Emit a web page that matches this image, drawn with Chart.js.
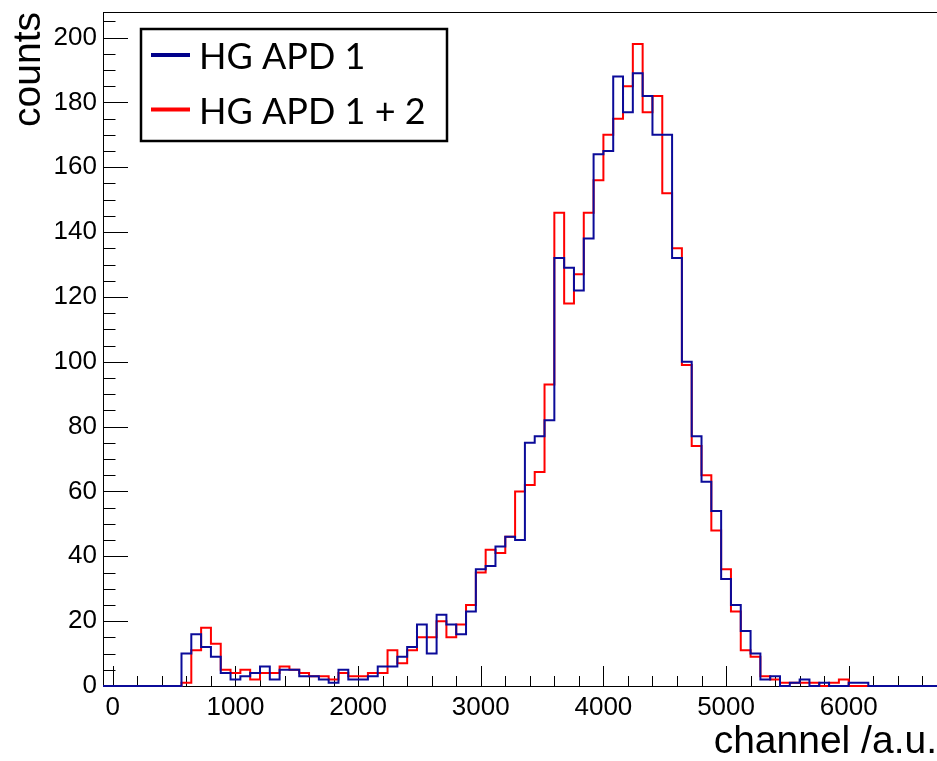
<!DOCTYPE html>
<html>
<head>
<meta charset="utf-8">
<script src="https://cdn.jsdelivr.net/npm/chart.js@4.4.1/dist/chart.umd.min.js"></script>
<style>
  html, body { margin: 0; padding: 0; background: #fff; }
  canvas { display: block; }
</style>
</head>
<body>
<canvas id="spectrum" width="937" height="761"></canvas>
<script>
// histogram binning (channel units)
var binWidth = 80;
var firstEdge = 560;      // lower edge of first non-empty bin
var rangeMin = -80;
var rangeMax = 6720;

// counts per bin, starting at firstEdge
var blueCounts = [10, 16, 12, 9, 4, 2, 3, 4, 6, 2,
    5, 5, 3, 3, 2, 1, 5, 2, 2, 3,
    6, 6, 9, 12, 19, 10, 22, 19, 16, 23,
    36, 37, 43, 46, 45, 75, 77, 82, 132, 129,
    122, 138, 164, 165, 188, 177, 189, 182, 170, 170,
    132, 100, 77, 63, 54, 33, 25, 17, 10, 2,
    3, 0, 1, 2, 0, 1, 0, 0, 1, 1];
var redCounts = [1, 11, 18, 13, 5, 4, 5, 2, 4, 4,
    6, 5, 4, 3, 3, 2, 4, 3, 3, 4,
    4, 11, 7, 11, 15, 15, 20, 15, 19, 25,
    35, 42, 41, 46, 60, 62, 66, 93, 146, 118,
    127, 146, 156, 170, 175, 185, 198, 177, 182, 152,
    135, 99, 74, 65, 48, 36, 23, 11, 9, 3,
    2, 1, 1, 1, 1, 0, 1, 2, 0, 0];

var xTicks = [0, 1000, 2000, 3000, 4000, 5000, 6000];
var yTicks = [0, 20, 40, 60, 80, 100, 120, 140, 160, 180, 200];
var yMax = 207.9;

var labels = ['HG APD 1', 'HG APD 1 + 2'];
var colors = ['#0b0b99', '#ff0000'];

function toSteps(counts) {
    var pts = [{x: rangeMin, y: 0}];
    counts.forEach(function(c, i) {
        pts.push({x: firstEdge + i * binWidth, y: c});
    });
    pts.push({x: firstEdge + counts.length * binWidth, y: 0});
    pts.push({x: rangeMax, y: 0});
    return pts;
}

// ROOT style frame with ticks pointing inwards
const frameTicks = {
    id: 'frameTicks',
    beforeDatasetsDraw(chart) {
        const {ctx, chartArea: a, scales: {x, y}} = chart;
        ctx.save();
        ctx.strokeStyle = '#000';
        ctx.lineWidth = 1;
        ctx.strokeRect(a.left + 0.5, a.top + 0.5, a.right - a.left, a.bottom - a.top);
        ctx.beginPath();
        for (let v = 0; v <= rangeMax; v += 200) {
            const px = Math.round(x.getPixelForValue(v)) + 0.5;
            const len = v % 1000 === 0 ? 20 : 10;
            ctx.moveTo(px, a.bottom);
            ctx.lineTo(px, a.bottom - len);
        }
        for (let v = 0; v <= yMax; v += 5) {
            const py = Math.round(y.getPixelForValue(v)) + 0.5;
            const len = v % 20 === 0 ? 25 : 12.5;
            ctx.moveTo(a.left, py);
            ctx.lineTo(a.left + len, py);
        }
        ctx.stroke();
        ctx.restore();
    }
};

const boxLegend = {
    id: 'boxLegend',
    afterDraw(chart) {
        const {ctx} = chart;
        ctx.save();
        ctx.strokeStyle = '#000';
        ctx.lineWidth = 2.5;
        ctx.strokeRect(141, 29, 306, 112);
        ctx.font = '36px Lato';
        ctx.textBaseline = 'alphabetic';
        ctx.fillStyle = '#000';
        const rows = [55, 109.5];
        chart.data.datasets.forEach((ds, i) => {
            ctx.strokeStyle = ds.legendColor;
            ctx.lineWidth = 4;
            ctx.beginPath();
            ctx.moveTo(151, rows[i]);
            ctx.lineTo(190, rows[i]);
            ctx.stroke();
            ctx.fillText(ds.label, 199, rows[i] + 14);
        });
        ctx.restore();
    }
};

function noPad(scale) {
    scale.paddingTop = 0;
    scale.paddingBottom = 0;
    scale.paddingLeft = 0;
    scale.paddingRight = 0;
}

const chart = new Chart(document.getElementById('spectrum'), {
    type: 'line',
    data: {
        datasets: [{
            label: labels[0],
            data: toSteps(blueCounts),
            borderColor: colors[0],
            legendColor: '#00008b',
            borderWidth: 2,
            stepped: true,
            pointRadius: 0,
            fill: false,
            clip: 3
        }, {
            label: labels[1],
            data: toSteps(redCounts),
            borderColor: colors[1],
            legendColor: '#ff0000',
            borderWidth: 2,
            stepped: true,
            pointRadius: 0,
            fill: false,
            clip: 3
        }]
    },
    plugins: [frameTicks, boxLegend],
    options: {
        responsive: false,
        animation: false,
        devicePixelRatio: 1,
        layout: {padding: {top: 12, right: 0, left: 0, bottom: 0}},
        plugins: {legend: {display: false}, tooltip: {enabled: false}},
        scales: {
            x: {
                type: 'linear',
                min: rangeMin,
                max: rangeMax,
                grid: {display: false, drawTicks: false},
                border: {display: false},
                afterBuildTicks: function(scale) {
                    scale.ticks = xTicks.map(v => ({value: v}));
                },
                afterFit: function(scale) { scale.height = 75; noPad(scale); },
                ticks: {
                    color: '#000',
                    padding: 6,
                    maxRotation: 0,
                    callback: v => String(v),
                    font: {family: 'Liberation Sans', size: 26}
                },
                title: {
                    display: true,
                    text: 'channel /a.u.',
                    align: 'end',
                    color: '#000',
                    padding: 0,
                    font: {family: 'Liberation Sans', size: 39, lineHeight: 0.95}
                }
            },
            y: {
                min: 0,
                max: yMax,
                grid: {display: false, drawTicks: false},
                border: {display: false},
                afterBuildTicks: function(scale) {
                    scale.ticks = yTicks.map(v => ({value: v}));
                },
                afterFit: function(scale) { scale.width = 103; noPad(scale); },
                ticks: {
                    color: '#000',
                    padding: 6,
                    callback: v => String(v),
                    font: {family: 'Liberation Sans', size: 26}
                },
                title: {
                    display: true,
                    text: 'counts',
                    align: 'end',
                    color: '#000',
                    padding: {top: 11, bottom: 0},
                    font: {family: 'Liberation Sans', size: 39, lineHeight: 0.95}
                }
            }
        }
    }
});
</script>
</body>
</html>
